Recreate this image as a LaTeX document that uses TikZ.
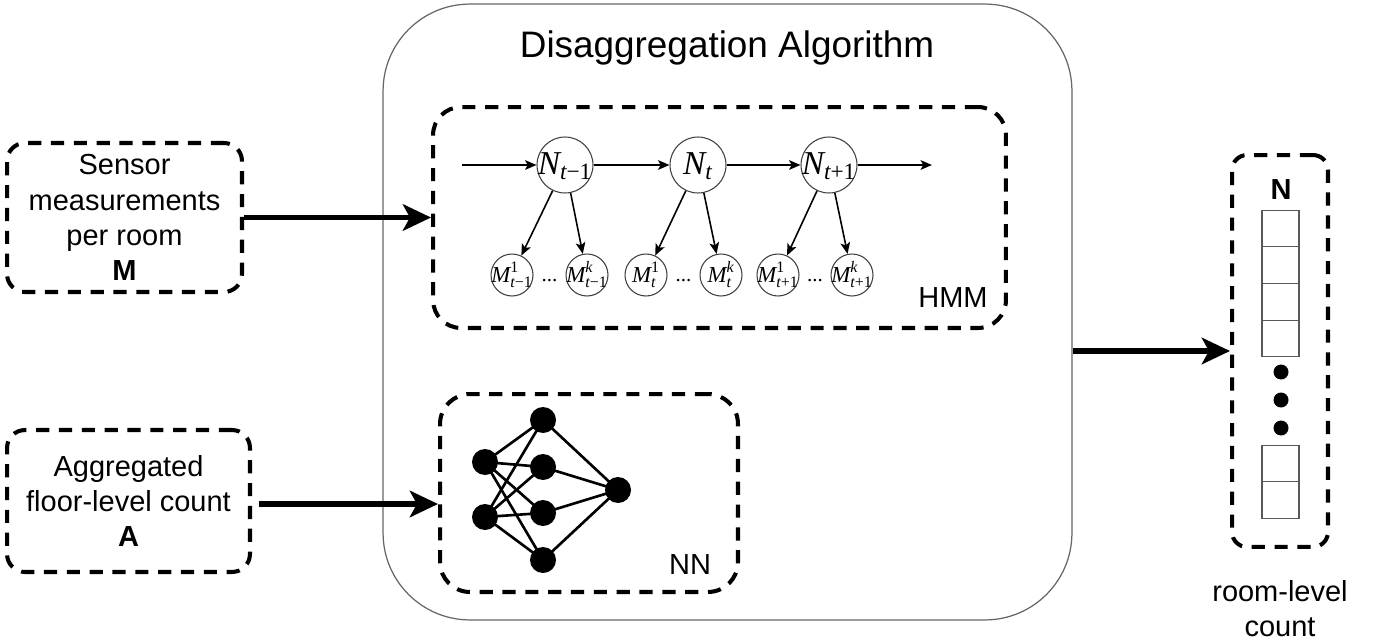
\documentclass[tikz,border=0pt]{standalone}
\usepackage{fontspec}
\usepackage{amsmath}
\setmainfont{Liberation Sans}
\newfontfamily\tms{Liberation Serif}
\usetikzlibrary{arrows.meta}
\newcommand\ti[1]{\text{\tms\itshape #1}}
\newcommand\tn[1]{\text{\tms #1}}
\newcommand\ctr[2]{\makebox[0pt]{\raisebox{#1}[0pt][0pt]{#2}}}
\begin{document}
\begin{tikzpicture}[x=0.02cm,y=-0.02cm,
  dbox/.style={draw, line width=2.3pt, dash pattern=on 7.5pt off 5.5pt, inner sep=0pt},
  big/.style={line width=3pt, -{Stealth[length=16pt,width=15pt,inset=4pt]}},
  thinarr/.style={line width=0.9pt, -{Stealth[length=6.5pt,width=5.5pt,inset=1.5pt]}},
  ncirc/.style={circle, draw=black!75, line width=0.6pt, minimum size=1.12cm, inner sep=0pt, font=\fontsize{19}{22}\selectfont},
  mcirc/.style={circle, draw=black!75, line width=0.6pt, minimum size=0.84cm, inner sep=0pt, font=\fontsize{13}{15}\selectfont},
  neuron/.style={circle, fill=black, minimum size=0.52cm, inner sep=0pt},
  nnline/.style={line width=1.5pt},
  cell/.style={draw=black!65, line width=0.6pt, minimum width=0.74cm, minimum height=0.734cm, inner sep=0pt},
  bdot/.style={circle, fill=black, minimum size=0.3cm, inner sep=0pt},
  ell/.style={font=\tms\fontsize{12}{14}\selectfont, inner sep=0pt},
  txt/.style={font=\fontsize{16.5}{20}\selectfont, align=center}
]
\useasboundingbox[fill=white] (0,0) rectangle (1378,642);

% main container
\node[draw=black!60, line width=0.7pt, rounded corners=1.74cm, minimum width=13.78cm, minimum height=12.32cm, inner sep=0pt] (main) at (727.5,312) {};
\node[font=\fontsize{21}{24}\selectfont] (title) at (727,48) {Disaggregation Algorithm};

% input boxes
\node[dbox, rounded corners=0.36cm, minimum width=4.7cm, minimum height=2.98cm, txt] (sens) at (124.5,217.5)
  {Sensor\\measurements\\per room\\\textbf{M}};
\node[dbox, rounded corners=0.36cm, minimum width=4.86cm, minimum height=2.84cm, txt] (agg) at (128.5,501)
  {Aggregated\\floor-level count\\\textbf{A}};

% HMM box
\node[dbox, rounded corners=0.56cm, minimum width=11.46cm, minimum height=4.42cm] (hmm) at (719.5,217.5) {};
\node[txt] (hmml) at (953,298) {HMM};

\node[ncirc] (n1) at (565,165) {\ctr{-5.5pt}{$\ti{N}_{\ti{t}\tn{−1}}$}};
\node[ncirc] (n2) at (698,165) {\ctr{-5.5pt}{$\ti{N}_{\ti{t}}$}};
\node[ncirc] (n3) at (829,165) {\ctr{-5.5pt}{$\ti{N}_{\ti{t}\tn{+1}}$}};
\coordinate (cs) at (462,165);
\coordinate (ce) at (932,165);

\node[mcirc] (m1a) at (512,275) {\ctr{-4pt}{$\ti{M}^{\tn{1}}_{\ti{t}\tn{−1}}$}};
\node[mcirc] (m1b) at (587,275) {\ctr{-4pt}{$\ti{M}^{\ti{k}}_{\ti{t}\tn{−1}}$}};
\node[mcirc] (m2a) at (646,275) {\ctr{-4pt}{$\ti{M}^{\tn{1}}_{\ti{t}}$}};
\node[mcirc] (m2b) at (721,275) {\ctr{-4pt}{$\ti{M}^{\ti{k}}_{\ti{t}}$}};
\node[mcirc] (m3a) at (778,275) {\ctr{-4pt}{$\ti{M}^{\tn{1}}_{\ti{t}\tn{+1}}$}};
\node[mcirc] (m3b) at (852,275) {\ctr{-4pt}{$\ti{M}^{\ti{k}}_{\ti{t}\tn{+1}}$}};
\node[ell] (d1) at (549.5,281) {...};
\node[ell] (d2) at (683.5,281) {...};
\node[ell] (d3) at (815,281) {...};

\draw[thinarr] (cs) -- (n1);
\draw[thinarr] (n1) -- (n2);
\draw[thinarr] (n2) -- (n3);
\draw[thinarr] (n3) -- (ce);
\draw[thinarr] (n1) -- (m1a);
\draw[thinarr] (n1) -- (m1b);
\draw[thinarr] (n2) -- (m2a);
\draw[thinarr] (n2) -- (m2b);
\draw[thinarr] (n3) -- (m3a);
\draw[thinarr] (n3) -- (m3b);

% NN box
\node[dbox, rounded corners=0.6cm, minimum width=5.96cm, minimum height=3.96cm] (nnb) at (589,493) {};
\node[txt] (nnl) at (690,565) {NN};
\node[neuron] (i1) at (485,462) {};
\node[neuron] (i2) at (485,517) {};
\node[neuron] (h1) at (543,420) {};
\node[neuron] (h2) at (543,467) {};
\node[neuron] (h3) at (543,513) {};
\node[neuron] (h4) at (543,560) {};
\node[neuron] (o1) at (618,490) {};
\foreach \i in {i1,i2}{\foreach \h in {h1,h2,h3,h4}{\draw[nnline] (\i.center) -- (\h.center);}}
\foreach \h in {h1,h2,h3,h4}{\draw[nnline] (\h.center) -- (o1.center);}

% output
\node[dbox, rounded corners=0.3cm, minimum width=1.92cm, minimum height=7.84cm] (out) at (1280,351) {};
\node[font=\fontsize{16.5}{20}\selectfont\bfseries] (nl) at (1281,190) {N};
\node[cell] (c1) at (1280.5,228.5) {};
\node[cell] (c2) at (1280.5,265.2) {};
\node[cell] (c3) at (1280.5,301.9) {};
\node[cell] (c4) at (1280.5,338.6) {};
\node[bdot] (b1) at (1281,372) {};
\node[bdot] (b2) at (1281,400) {};
\node[bdot] (b3) at (1281,428) {};
\node[cell] (c5) at (1280.5,463.5) {};
\node[cell] (c6) at (1280.5,500.2) {};
\node[txt] (rl) at (1280,609) {room-level\\count};

% connectors
\draw[big] (sens.east) -- (hmm.west);
\draw[big] ([shift={(7,3)}]agg.east) -- ([shift={(0,11)}]nnb.west);
\draw[big] (main.east |- out.west) -- (out.west);
\end{tikzpicture}
\end{document}
